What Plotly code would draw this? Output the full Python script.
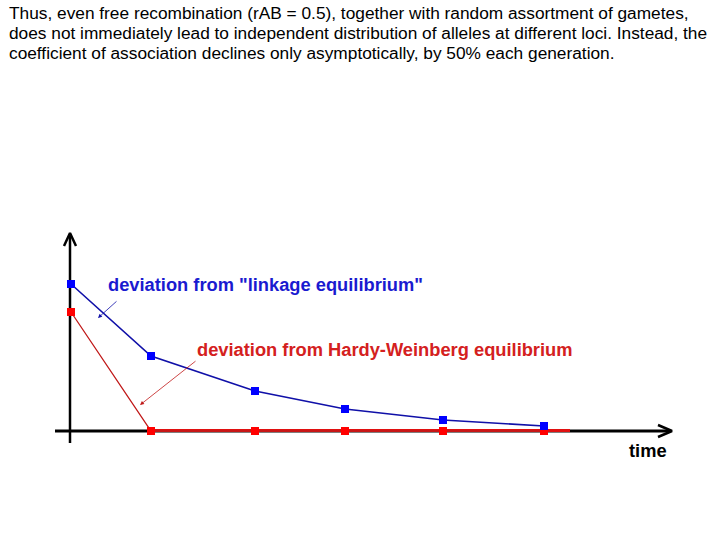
import plotly.graph_objects as go

# data (arbitrary units: time along x, deviation along y)
time = [0, 0.80, 1.84, 2.74, 3.72, 4.73]
linkage_dev = [1.47, 0.75, 0.40, 0.22, 0.11, 0.05]
hw_dev = [1.19, 0, 0, 0, 0, 0]
hw_tail_time = [0.81, 4.99]
hw_tail_val = [0.005, 0.005]

title_lines = [
    "Thus, even free recombination (rAB = 0.5), together with random assortment of gametes,",
    "does not immediately lead to independent distribution of alleles at different loci. Instead, the",
    "coefficient of association declines only asymptotically, by 50% each generation.",
]

fig = go.Figure()

# axes lines (drawn in data coords)
fig.add_trace(go.Scatter(x=[-0.01, -0.01], y=[-0.12, 1.97], mode="lines",
                         line=dict(color="black", width=2.5), hoverinfo="skip", showlegend=False))
fig.add_trace(go.Scatter(x=[-0.16, 5.99], y=[0, 0], mode="lines",
                         line=dict(color="black", width=3), hoverinfo="skip", showlegend=False))
# arrow chevrons
fig.add_trace(go.Scatter(x=[-0.07, -0.01, 0.05], y=[1.85, 1.98, 1.85], mode="lines",
                         line=dict(color="black", width=2.5), hoverinfo="skip", showlegend=False))
fig.add_trace(go.Scatter(x=[5.87, 6.01, 5.87], y=[0.06, 0.0, -0.06], mode="lines",
                         line=dict(color="black", width=2.5), hoverinfo="skip", showlegend=False))

# red tail along axis
fig.add_trace(go.Scatter(x=hw_tail_time, y=hw_tail_val, mode="lines",
                         line=dict(color="#e01010", width=3), hoverinfo="skip", showlegend=False))

fig.add_trace(go.Scatter(x=time, y=hw_dev, mode="lines+markers",
                         line=dict(color="#c01818", width=1.3),
                         marker=dict(symbol="square", size=8, color="#ff0000"),
                         showlegend=False))
fig.add_trace(go.Scatter(x=time, y=linkage_dev, mode="lines+markers",
                         line=dict(color="#1010a8", width=1.6),
                         marker=dict(symbol="square", size=8, color="#0000ff"),
                         showlegend=False))

lab_font = dict(family="Arial, Liberation Sans", size=18.3, weight="bold")
# labels
fig.add_annotation(x=0.35, y=1.47, xref="x", yref="y", text="deviation from \"linkage equilibrium\"",
                   showarrow=False, xanchor="left", yanchor="middle",
                   font=dict(lab_font, color="#1a1ad0"))
fig.add_annotation(x=1.24, y=0.82, xref="x", yref="y", text="deviation from Hardy-Weinberg equilibrium",
                   showarrow=False, xanchor="left", yanchor="middle",
                   font=dict(lab_font, color="#d42020"))
fig.add_annotation(x=5.56, y=-0.19, xref="x", yref="y", text="time",
                   showarrow=False, xanchor="left", yanchor="middle",
                   font=dict(lab_font, color="black"))

# pointer arrows
fig.add_annotation(x=0.27, y=1.13, ax=0.47, ay=1.31, xref="x", yref="y", axref="x", ayref="y",
                   text="", showarrow=True, arrowhead=2, arrowsize=1, arrowwidth=0.8, arrowcolor="#1010a8")
fig.add_annotation(x=0.69, y=0.26, ax=1.26, ay=0.71, xref="x", yref="y", axref="x", ayref="y",
                   text="", showarrow=True, arrowhead=2, arrowsize=1, arrowwidth=0.8, arrowcolor="#c01818")

for i, line in enumerate(title_lines):
    fig.add_annotation(x=0.0097, y=1 - (13 + 20 * i) / 540, xref="paper", yref="paper", text=line,
                       showarrow=False, xanchor="left", yanchor="middle", align="left",
                       font=dict(family="Arial, Liberation Sans", size=17.3, color="black"))

fig.update_layout(
    width=720, height=540, margin=dict(l=0, r=0, t=0, b=0),
    paper_bgcolor="white", plot_bgcolor="white",
    xaxis=dict(range=[-0.71, 6.49], visible=False, fixedrange=True),
    yaxis=dict(range=[-1.09, 4.31], visible=False, fixedrange=True),
)

fig.write_html("out.html")
